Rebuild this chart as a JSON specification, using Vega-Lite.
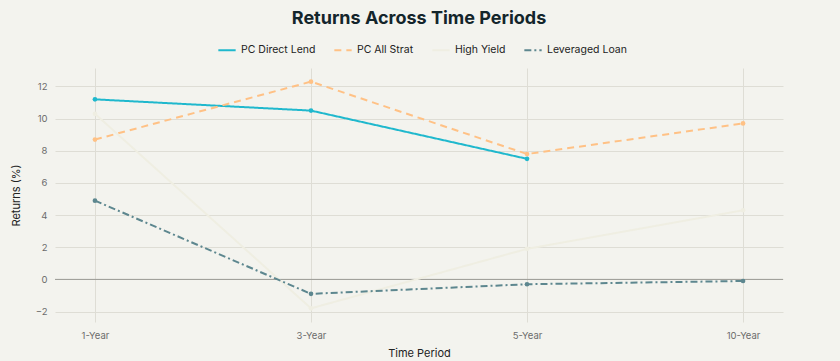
{
  "$schema": "https://vega.github.io/schema/vega-lite/v6.json",
  "width": 728,
  "height": 254,
  "autosize": {"type": "none"},
  "padding": {"left": 55, "top": 68, "right": 57, "bottom": 39},
  "background": "#F3F3EE",
  "title": {
    "text": "Returns Across Time Periods",
    "fontSize": 18,
    "font": "Inter",
    "fontWeight": "bold",
    "color": "#13252B",
    "anchor": "middle",
    "offset": 12
  },
  "config": {
    "view": {"stroke": null},
    "font": "Inter",
    "axis": {
      "labelFont": "Inter",
      "titleFont": "Inter",
      "labelColor": "#6b6b6b",
      "titleColor": "#222",
      "labelFontSize": 9.5,
      "titleFontSize": 11,
      "titleFontWeight": "normal",
      "gridColor": "#DEDDD5",
      "gridWidth": 1,
      "domain": false,
      "ticks": false,
      "labelOverlap": false
    },
    "legend": {"labelFont": "Inter", "labelFontSize": 10.5, "labelColor": "#222"}
  },
  "data": {
    "values": [
      {"series": "PC Direct Lend", "period": "1-Year", "value": 11.2},
      {"series": "PC Direct Lend", "period": "3-Year", "value": 10.5},
      {"series": "PC Direct Lend", "period": "5-Year", "value": 7.5},
      {"series": "PC All Strat", "period": "1-Year", "value": 8.7},
      {"series": "PC All Strat", "period": "3-Year", "value": 12.3},
      {"series": "PC All Strat", "period": "5-Year", "value": 7.8},
      {"series": "PC All Strat", "period": "10-Year", "value": 9.7},
      {"series": "High Yield", "period": "1-Year", "value": 10.3},
      {"series": "High Yield", "period": "3-Year", "value": -1.8},
      {"series": "High Yield", "period": "5-Year", "value": 1.9},
      {"series": "High Yield", "period": "10-Year", "value": 4.3},
      {"series": "Leveraged Loan", "period": "1-Year", "value": 4.9},
      {"series": "Leveraged Loan", "period": "3-Year", "value": -0.9},
      {"series": "Leveraged Loan", "period": "5-Year", "value": -0.3},
      {"series": "Leveraged Loan", "period": "10-Year", "value": -0.1}
    ]
  },
  "layer": [
    {
      "data": {"values": [{"zero": 0}]},
      "mark": {"type": "rule", "color": "#9a9a94", "strokeWidth": 1},
      "encoding": {
        "y": {
          "field": "zero",
          "type": "quantitative",
          "scale": {"domain": [-2.65, 13.15], "nice": false, "zero": false},
          "axis": {"title": "Returns (%)", "values": [-2, 0, 2, 4, 6, 8, 10, 12], "labelOverlap": false, "labelPadding": 8, "titlePadding": 14}
        }
      }
    },
    {
      "mark": {"type": "line", "strokeWidth": 2, "point": {"filled": true, "size": 22}},
      "encoding": {
        "x": {
          "field": "period",
          "type": "ordinal",
          "sort": ["1-Year", "3-Year", "5-Year", "10-Year"],
          "scale": {"type": "point", "padding": 0.185},
          "axis": {"title": "Time Period", "labelAngle": 0, "grid": true, "labelPadding": 8, "titlePadding": 8}
        },
        "y": {
          "field": "value",
          "type": "quantitative",
          "scale": {"domain": [-2.65, 13.15], "nice": false, "zero": false},
          "axis": {"title": "Returns (%)", "values": [-2, 0, 2, 4, 6, 8, 10, 12], "labelOverlap": false, "labelPadding": 8, "titlePadding": 14}
        },
        "color": {
          "field": "series",
          "type": "nominal",
          "sort": ["PC Direct Lend", "PC All Strat", "High Yield", "Leveraged Loan"],
          "scale": {
            "domain": ["PC Direct Lend", "PC All Strat", "High Yield", "Leveraged Loan"],
            "range": ["#1FB8CD", "#FFC185", "#EFEEE2", "#5D878F"]
          },
          "legend": {
            "title": null,
            "orient": "none",
            "direction": "horizontal",
            "legendX": 162,
            "legendY": -28,
            "symbolType": "stroke",
            "symbolSize": 300,
            "symbolStrokeWidth": 2,
            "columnPadding": 14
          }
        },
        "strokeDash": {
          "field": "series",
          "type": "nominal",
          "sort": ["PC Direct Lend", "PC All Strat", "High Yield", "Leveraged Loan"],
          "scale": {
            "domain": ["PC Direct Lend", "PC All Strat", "High Yield", "Leveraged Loan"],
            "range": [[1, 0], [7, 5], [1, 0], [7, 3, 2, 3]]
          },
          "legend": null
        }
      }
    }
  ]
}
